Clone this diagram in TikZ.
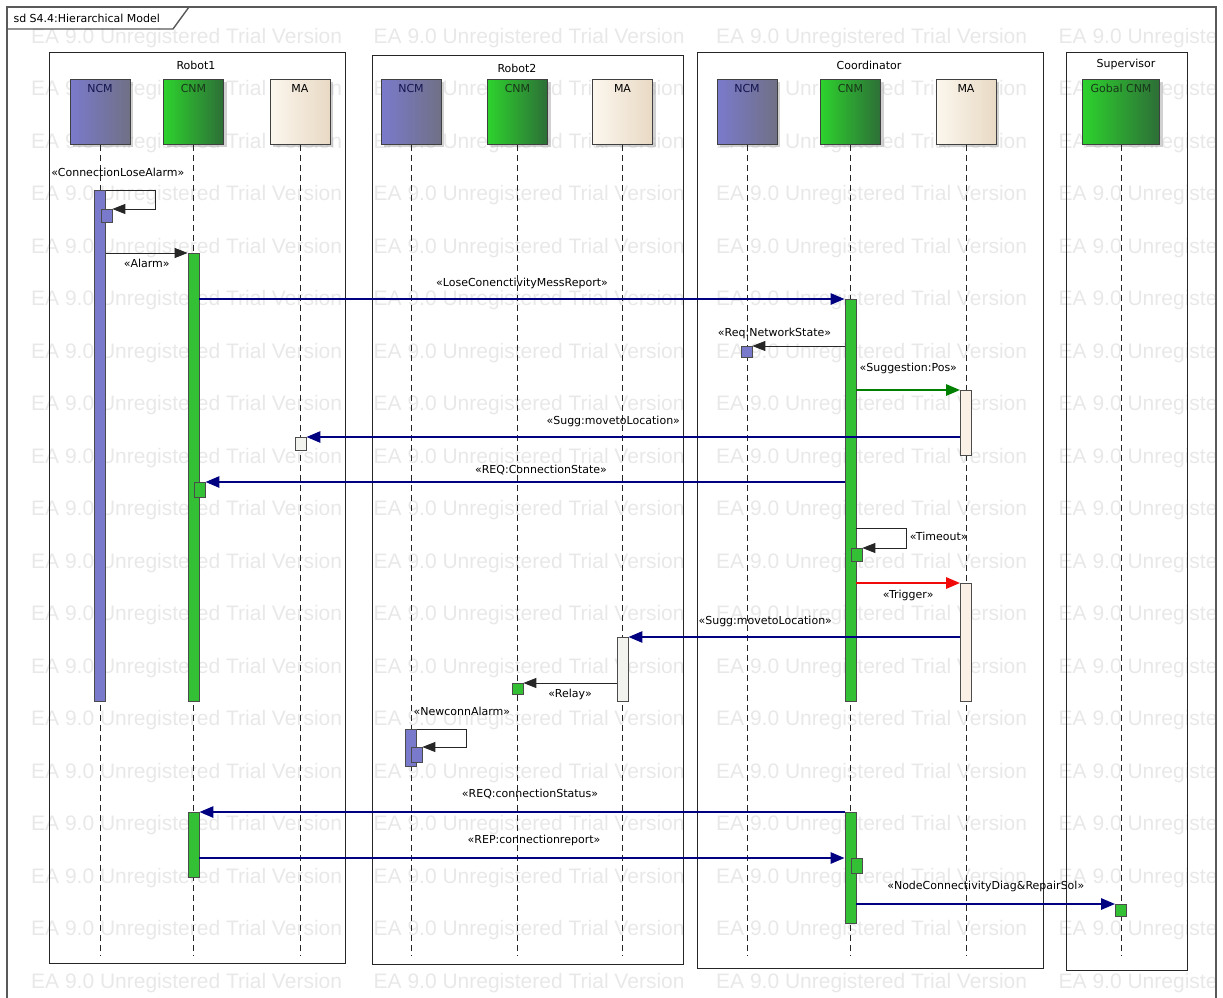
\documentclass[tikz,border=0pt]{standalone}
\usepackage{fontspec}
\setmainfont{DejaVu Sans}
\newfontfamily\wmfont{Liberation Sans}
\usepackage{xcolor}
\usepackage{tikz}
\usetikzlibrary{shapes,arrows.meta,positioning,shadows}
\definecolor{navy}{RGB}{0,0,128}
\definecolor{msggreen}{RGB}{0,128,0}
\definecolor{msgred}{RGB}{240,10,10}
\definecolor{ncmblue}{RGB}{122,122,204}
\definecolor{ncmgray}{RGB}{112,112,134}
\definecolor{ncmtext}{RGB}{20,20,80}
\definecolor{cnmgreen}{RGB}{45,210,45}
\definecolor{cnmdark}{RGB}{45,110,55}
\definecolor{cnmbar}{RGB}{52,192,52}
\definecolor{cnmtext}{RGB}{25,55,25}
\definecolor{macream}{RGB}{252,247,238}
\definecolor{mabeige}{RGB}{232,217,196}
\definecolor{mabar}{RGB}{250,240,230}
\definecolor{magray}{RGB}{242,242,238}
\definecolor{wmgray}{RGB}{232,232,232}

\begin{document}
\begin{tikzpicture}[x=1pt, y=-1pt,
    font=\fontsize{11}{13}\selectfont,
    frame/.style={draw=black!65, line width=1.4pt},
    boundary/.style={draw=black!85, line width=0.9pt},
    head/.style={rectangle, draw=black!75, line width=0.9pt, minimum width=60pt,
                 minimum height=65pt, inner sep=0pt, anchor=north,
                 drop shadow={shadow xshift=3pt, shadow yshift=-3pt, fill=black!30, opacity=0.6}},
    ncmhead/.style={head, left color=ncmblue, right color=ncmgray},
    cnmhead/.style={head, left color=cnmgreen, right color=cnmdark},
    mahead/.style={head, left color=macream, right color=mabeige},
    headtext/.style={anchor=north, yshift=-5pt, inner sep=0pt},
    lifeline/.style={draw=black!85, line width=0.8pt, dash pattern=on 6pt off 4pt},
    actbar/.style={rectangle, draw=black!70, line width=0.7pt, minimum width=11pt,
                   inner sep=0pt, anchor=north},
    actbox/.style={actbar, minimum height=13pt},
    msg/.style={draw=black!85, line width=0.9pt, -{Triangle[length=13pt,width=10pt]}},
    navymsg/.style={draw=navy, line width=2.6pt, -{Triangle[length=14pt,width=11pt]}},
    greenmsg/.style={navymsg, draw=msggreen},
    redmsg/.style={navymsg, draw=msgred},
    msglabel/.style={inner sep=1pt, text height=8pt, text depth=2.5pt},
    watermark/.style={font=\wmfont\fontsize{21}{24}\selectfont, text=wmgray,
                      anchor=west, inner sep=0pt}
]
\useasboundingbox (0,0) rectangle (1223,998);

% Watermark
\begin{scope}
\clip (7,7) rectangle (1215,998);
\foreach \col in {0,...,3}
  \foreach \row in {0,...,18}
    \node[watermark] (wm-\col-\row) at (31+342.5*\col, 38+52.5*\row) {EA 9.0 Unregistered Trial Version};
\end{scope}

% Frame
\draw[frame] (7,998) -- (7,7) -- (1216,7) -- (1216,998);
\draw[frame] (7,29) -- (173,29) -- (189,7);
\node[anchor=west] (sdTitle) at (10,18) {sd S4.4:Hierarchical Model};

% Boundaries
\draw[boundary] (49,52) rectangle (345,963);
\draw[boundary] (372,55) rectangle (683,964);
\draw[boundary] (697,52) rectangle (1043,968);
\draw[boundary] (1066,52) rectangle (1187,970);
\node (robotOneName) at (196,65) {Robot1};
\node (robotTwoName) at (517,68) {Robot2};
\node (coordName) at (869,65) {Coordinator};
\node (superName) at (1126,64) {Supervisor};

% Heads
\node[ncmhead, label={[headtext, text=ncmtext]north:NCM}] (rOneNcm) at (100,79) {};
\node[cnmhead, label={[headtext, text=cnmtext]north:CNM}] (rOneCnm) at (193.5,79) {};
\node[mahead, label={[headtext]north:MA}] (rOneMa) at (300,79) {};
\node[ncmhead, label={[headtext, text=ncmtext]north:NCM}] (rTwoNcm) at (411,79) {};
\node[cnmhead, label={[headtext, text=cnmtext]north:CNM}] (rTwoCnm) at (517.5,79) {};
\node[mahead, label={[headtext]north:MA}] (rTwoMa) at (622.5,79) {};
\node[ncmhead, label={[headtext, text=ncmtext]north:NCM}] (coNcm) at (747,79) {};
\node[cnmhead, label={[headtext, text=cnmtext]north:CNM}] (coCnm) at (850.5,79) {};
\node[mahead, label={[headtext]north:MA}] (coMa) at (966,79) {};
\node[cnmhead, minimum width=77pt, label={[headtext, text=cnmtext]north:Gobal CNM}] (svCnm) at (1121,79) {};

% Lifelines
\foreach \h in {rOneNcm,rOneCnm,rOneMa,rTwoNcm,rTwoCnm,rTwoMa,coNcm,coCnm,coMa,svCnm}
  \draw[lifeline] (\h.south) -- ++(0,811);

% Activations
\node[actbar, fill=ncmblue, minimum height=511pt] (rOneNcmA) at (100,190) {};
\node[actbar, fill=cnmbar, minimum height=448pt] (rOneCnmA) at (193.5,253) {};
\node[actbar, fill=cnmbar, minimum height=65pt] (rOneCnmB) at (193.5,812) {};
\node[actbar, fill=magray, minimum height=64pt] (rTwoMaA) at (622.5,637) {};
\node[actbar, fill=ncmblue, minimum height=37pt] (rTwoNcmA) at (411,729) {};
\node[actbar, fill=cnmbar, minimum height=402pt] (coCnmA) at (850.5,299) {};
\node[actbar, fill=cnmbar, minimum height=111pt] (coCnmB) at (850.5,812) {};
\node[actbar, fill=mabar, minimum height=65pt] (coMaA) at (966,390) {};
\node[actbar, fill=mabar, minimum height=118pt] (coMaB) at (966,583) {};

\node[actbox, fill=ncmblue] (rOneNcmS) at (106.5,209) {};
\node[actbox, fill=magray] (rOneMaS) at (300.5,437) {};
\node[actbox, fill=cnmbar, minimum height=15pt] (rOneCnmS) at (199.5,482) {};
\node[actbox, fill=ncmblue, minimum height=11pt] (coNcmS) at (746.5,346) {};
\node[actbox, fill=cnmbar] (coCnmS) at (856.5,548) {};
\node[actbox, fill=cnmbar, minimum height=11pt] (rTwoCnmS) at (517.5,683) {};
\node[actbox, fill=ncmblue, minimum height=15pt] (rTwoNcmS) at (416.5,747) {};
\node[actbox, fill=cnmbar, minimum height=15pt] (coCnmS2) at (856.5,858) {};
\node[actbox, fill=cnmbar, minimum height=12pt] (svS) at (1121,904) {};

% Messages
\draw[msg] (rOneNcmA.north east) -- ++(50,0)
  node[msglabel, midway, above=10pt, xshift=-13pt] (lblLoseAlarm) {«ConnectionLoseAlarm»}
  |- (rOneNcmS.north east);
\draw[msg] (rOneNcmA.east |- rOneCnmA.north) -- (rOneCnmA.north west)
  node[msglabel, midway, below=5pt] (lblAlarm) {«Alarm»};
\draw[navymsg] (rOneCnmA.east |- coCnmA.north) -- (coCnmA.north west)
  node[msglabel, midway, above=8pt] (lblLoseReport) {«LoseConenctivityMessReport»};
\draw[msg] (coCnmA.west |- coNcmS.north) -- (coNcmS.north east)
  node[msglabel, midway, above=6pt, xshift=-24pt] (lblNetState) {«Req:NetworkState»};
\draw[greenmsg] (coCnmA.east |- coMaA.north) -- (coMaA.north west)
  node[msglabel, midway, above=14pt] (lblSuggPos) {«Suggestion:Pos»};
\draw[navymsg] (coMaA.west |- rOneMaS.north) -- (rOneMaS.north east)
  node[msglabel, midway, above=8pt, xshift=-20pt] (lblMoveOne) {«Sugg:movetoLocation»};
\draw[navymsg] (coCnmA.west |- rOneCnmS.north) -- (rOneCnmS.north east)
  node[msglabel, midway, above=4pt, xshift=16pt] (lblConnState) {«REQ:ConnectionState»};
\draw[msg] (coCnmS.north -| coCnmA.east) ++(0,-20) -- ++(50,0)
  |- node[msglabel, pos=0.25, right=2pt] (lblTimeout) {«Timeout»} (coCnmS.north east);
\draw[redmsg] (coCnmA.east |- coMaB.north) -- (coMaB.north west)
  node[msglabel, midway, below=5pt] (lblTrigger) {«Trigger»};
\draw[navymsg] (coMaB.west |- rTwoMaA.north) -- (rTwoMaA.north east)
  node[msglabel, midway, above=8pt, xshift=-29pt] (lblMoveTwo) {«Sugg:movetoLocation»};
\draw[msg] (rTwoMaA.west |- rTwoCnmS.north) -- (rTwoCnmS.north east)
  node[msglabel, midway, below=5pt] (lblRelay) {«Relay»};
\draw[msg] (rTwoNcmA.north east) -- ++(50,0)
  node[msglabel, midway, above=10pt, xshift=20pt] (lblNewconn) {«NewconnAlarm»}
  |- (rTwoNcmS.north east);
\draw[navymsg] (coCnmB.north west) -- (rOneCnmB.north east)
  node[msglabel, midway, above=10pt, xshift=8pt] (lblConnStatus) {«REQ:connectionStatus»};
\draw[navymsg] (rOneCnmB.east |- coCnmS2.north) -- (coCnmB.west |- coCnmS2.north)
  node[msglabel, midway, above=10pt, xshift=12pt] (lblConnReport) {«REP:connectionreport»};
\draw[navymsg] (coCnmB.east |- svS.north) -- (svS.north west)
  node[msglabel, midway, above=10pt] (lblDiag) {«NodeConnectivityDiag\&RepairSol»};
\end{tikzpicture}
\end{document}
